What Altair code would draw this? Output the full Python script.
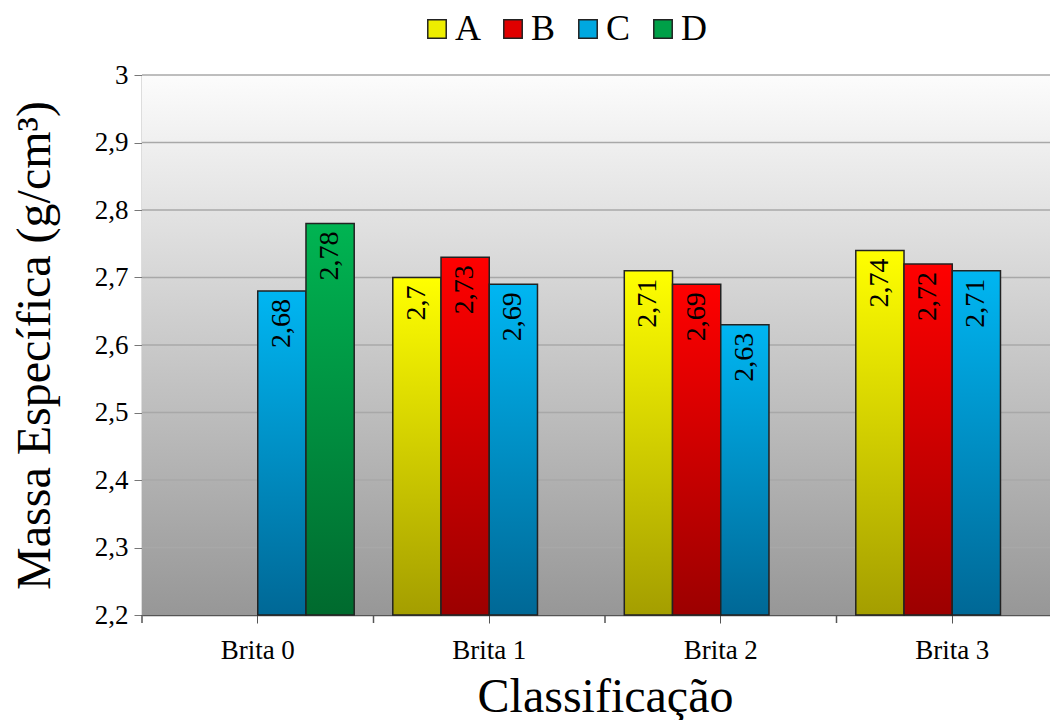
import altair as alt
import pandas as pd

categories = ["Brita 0", "Brita 1", "Brita 2", "Brita 3"]
series = ["A", "B", "C", "D"]
# values per series per category (None = no bar)
values_A = [None, 2.70, 2.71, 2.74]
values_B = [None, 2.73, 2.69, 2.72]
values_C = [2.68, 2.69, 2.63, 2.71]
values_D = [2.78, None, None, None]
y_ticks = [2.2, 2.3, 2.4, 2.5, 2.6, 2.7, 2.8, 2.9, 3.0]

rows = []
for s, vals in zip(series, [values_A, values_B, values_C, values_D]):
    for c, v in zip(categories, vals):
        if v is not None:
            rows.append({"cat": c, "serie": s, "v": v})
df = pd.DataFrame(rows)

FONT = "Liberation Serif"
W, H = 906, 540
XR = 926  # band range of the category axis (plot is cut at the right like the original)

grad = {
    "A": ("#ffff00", "#a49e00"),
    "B": ("#ff0000", "#9c0000"),
    "C": ("#00b6f2", "#006896"),
    "D": ("#00b452", "#006a2e"),
}
legend_colors = ["#eeee00", "#e00000", "#00a8e0", "#00a048"]

def lg(top, bottom):
    return {"gradient": "linear", "x1": 0, "y1": 0, "x2": 0, "y2": 1,
            "stops": [{"offset": 0, "color": top}, {"offset": 1, "color": bottom}]}

xscale = alt.Scale(domain=categories, paddingInner=0, paddingOuter=0, range=[0, XR])
xenc = alt.X("cat:N", sort=categories, title="Classificação", scale=xscale,
             axis=alt.Axis(labelAngle=0, labelFontSize=27, labelFont=FONT, labelColor="black",
                           titleFontSize=48, titleFont=FONT, titleFontWeight="normal", titleColor="black",
                           titlePadding=10, labelPadding=14, tickSize=8, tickColor="#555",
                           domainColor="#555", domainWidth=1.5, grid=False))
xoff = alt.XOffset("serie:N", sort=series,
                   scale=alt.Scale(domain=series, paddingInner=0, paddingOuter=0.4))
yenc = alt.Y("v:Q", title="Massa Específica (g/cm³)",
             scale=alt.Scale(domain=[2.2, 3.0], zero=False, nice=False),
             axis=alt.Axis(values=y_ticks, format=".1~f", labelExpr="replace(datum.label, '.', ',')",
                           labelFontSize=27, labelFont=FONT, labelColor="black", labelPadding=6,
                           titleFontSize=48, titleFont=FONT, titleFontWeight="normal", titleColor="black",
                           titlePadding=35, tickSize=8, tickColor="#777", domainColor="#777",
                           domainWidth=1.5, grid=False))

bg = alt.Chart(alt.Data(values=[{"k": 1}])).mark_rect(
    fill=lg("#fcfcfc", "#979797")
).encode(x=alt.value(0), x2=alt.value(XR), y=alt.value(0), y2=alt.value("height"))

grid = alt.Chart(pd.DataFrame({"t": y_ticks[1:]})).mark_rule(
    color="#a8a8a8", strokeWidth=1.5
).encode(y=alt.Y("t:Q", scale=alt.Scale(domain=[2.2, 3.0], zero=False, nice=False)),
         x=alt.value(0), x2=alt.value(XR))

base = alt.Chart(df)
bars = []
for s in series:
    bars.append(
        base.transform_filter(alt.datum.serie == s).mark_bar(
            stroke="#222", strokeWidth=1.5, fill=lg(*grad[s])
        ).encode(x=xenc, xOffset=xoff, y=yenc, y2=alt.datum(2.2))
    )

legend_layer = base.transform_filter("false").mark_square(
    filled=True, stroke="#222", strokeWidth=1.5
).encode(
    color=alt.Color("serie:N", scale=alt.Scale(domain=series, range=legend_colors),
                    legend=alt.Legend(title=None, orient="none", direction="horizontal",
                                      legendX=277, legendY=-64, symbolType="square",
                                      symbolSize=340, symbolStrokeColor="#222",
                                      symbolStrokeWidth=1.5, labelFontSize=36,
                                      labelFont=FONT, labelColor="black", padding=0,
                                      columnPadding=14, labelOffset=0, symbolOpacity=1))
)

labels = base.transform_calculate(
    lab="replace(toString(datum.v), '.', ',')"
).mark_text(
    angle=270, align="right", baseline="middle", dx=-8, fontSize=28, font=FONT, color="black"
).encode(x=xenc, xOffset=xoff, y=yenc, text="lab:N")

bticks = alt.Chart(pd.DataFrame({"cat": categories})).mark_rule(
    color="#555", strokeWidth=1.5
).encode(x=alt.X("cat:N", sort=categories, bandPosition=0, scale=xscale),
         y=alt.value(H), y2=alt.value(H + 8))

chart = alt.layer(bg, grid, *bars, labels, bticks, legend_layer).properties(
    width=W, height=H,
    autosize=alt.AutoSizeParams(type="none"),
    padding={"left": 134, "top": 67, "right": 2, "bottom": 105},
).configure_view(stroke=None).configure(background="white")

chart.save("out.html", embed_options={"renderer": "svg", "actions": False})
